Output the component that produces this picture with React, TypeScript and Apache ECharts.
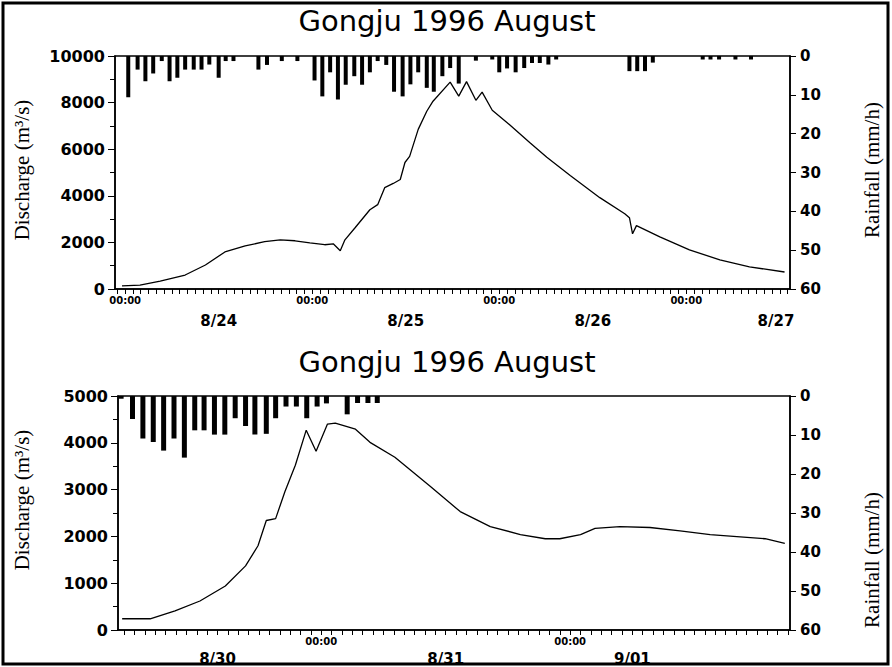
import React, { useEffect, useRef } from "react";
import * as echarts from "echarts";

// ---------- Panel 1: 8/24 - 8/27 (hours from 8/24 00:00) ----------
const topRainHours = [0.4, 1.6, 2.6, 3.6, 4.7, 5.7, 6.7, 7.7, 8.8, 9.8, 10.8, 12.0, 12.9, 13.9, 17.1, 18.2, 20.1, 22.1, 24.3, 25.3, 26.3, 27.3, 28.3, 29.4, 30.4, 31.4, 32.4, 33.5, 34.5, 35.6, 36.6, 37.6, 38.7, 39.6, 40.7, 41.7, 42.8, 45.0, 47.1, 48.0, 49.0, 50.1, 51.2, 52.2, 53.2, 54.3, 55.3, 64.7, 65.7, 66.7, 67.7, 74.1, 75.1, 76.2, 78.3, 80.3];
const topRain = [10.6, 3.5, 6.5, 4.5, 1.3, 6.5, 5.6, 3.5, 3.5, 3.5, 2.2, 5.6, 1.3, 1.3, 3.5, 2.3, 1.3, 1.3, 6.3, 10.4, 4.2, 11.2, 7.4, 5.2, 7.4, 4.2, 1.3, 2.3, 9.2, 10.4, 7.3, 4.2, 8.2, 9.2, 5.2, 3.1, 7.1, 1.2, 0.9, 4.2, 3.2, 4.2, 3.1, 1.8, 1.8, 2.2, 0.9, 3.9, 3.9, 3.9, 1.7, 0.9, 0.9, 0.9, 0.9, 0.9];
const topFlowHours = [-0.4, 1.9, 4.5, 7.7, 10.3, 12.8, 15.4, 17.9, 19.9, 21.8, 23.7, 25.6, 26.7, 27.6, 28.2, 29.5, 31.4, 32.4, 33.3, 34.4, 35.3, 35.9, 36.5, 37.6, 38.7, 39.5, 41.7, 42.8, 43.8, 45.0, 45.8, 47.1, 49.4, 51.9, 54.1, 57.1, 60.9, 64.1, 64.7, 65.1, 65.6, 68.6, 72.4, 76.3, 80.1, 84.6];
const topFlow = [130, 170, 340, 600, 1030, 1590, 1850, 2030, 2110, 2070, 1980, 1900, 1940, 1640, 2110, 2630, 3400, 3620, 4350, 4530, 4700, 5430, 5690, 6850, 7630, 8060, 8880, 8280, 8900, 8100, 8450, 7670, 7030, 6290, 5650, 4870, 3920, 3230, 3060, 2370, 2720, 2240, 1680, 1250, 950, 730];
const topClockPos = [0, 24, 48, 72];
const topClockLabels = ["00:00", "00:00", "00:00", "00:00"];
const topDatePos = [12, 36, 60, 83.5];
const topDateLabels = ["8/24", "8/25", "8/26", "8/27"];

// ---------- Panel 2: 8/30 - 9/01 (hours from 8/31 00:00) ----------
const botRainHours = [-19.3, -18.2, -17.2, -16.2, -15.2, -14.2, -13.2, -12.2, -11.3, -10.3, -9.3, -8.3, -7.3, -6.4, -5.3, -4.4, -3.4, -2.4, -1.4, -0.4, 0.5, 2.5, 3.5, 4.5, 5.4];
const botRain = [0.7, 5.9, 10.9, 11.8, 14.0, 10.9, 15.8, 8.8, 8.8, 9.9, 9.9, 5.7, 7.7, 9.9, 9.7, 5.7, 2.7, 2.7, 5.7, 2.7, 1.9, 4.7, 1.8, 1.8, 1.8];
const botFlowHours = [-19.2, -16.5, -14.1, -11.7, -9.25, -7.3, -6.1, -5.3, -4.4, -3.5, -2.5, -1.45, -0.5, 0.6, 1.35, 3.3, 4.7, 7.1, 10.5, 13.4, 16.3, 19.2, 21.6, 23.0, 25.0, 26.4, 28.8, 31.7, 34.6, 37.5, 40.4, 42.8, 44.7];
const botFlow = [240, 240, 410, 620, 940, 1370, 1800, 2340, 2380, 2960, 3520, 4270, 3820, 4400, 4420, 4290, 4010, 3690, 3070, 2530, 2210, 2040, 1950, 1950, 2040, 2170, 2210, 2190, 2120, 2040, 1990, 1950, 1850];
const botClockPos = [0, 24];
const botClockLabels = ["00:00", "00:00"];
const botDatePos = [-10, 12, 30];
const botDateLabels = ["8/30", "8/31", "9/01"];

const titleText = "Gongju 1996 August";
const leftName = "Discharge (m³/s)";
const rightName = "Rainfall (mm/h)";

const SANS = "DejaVu Sans";
const SERIF = "Liberation Serif";

function hourTicks(a: number, b: number) {
  const t: number[] = [];
  for (let h = a; h <= b; h++) t.push(h);
  return t;
}

function pairs(xs: number[], ys: number[]) {
  return xs.map((x, i) => [x, ys[i]]);
}

function mainX(grid: number, min: number, max: number, clockPos: number[], clockLabels: string[]) {
  return {
    type: "value",
    gridIndex: grid,
    position: "bottom",
    min,
    max,
    axisLine: { show: true, onZero: false, lineStyle: { color: "#000", width: 1.5 } },
    axisTick: { show: true, customValues: hourTicks(Math.ceil(min), Math.floor(max)), length: 5, lineStyle: { color: "#000", width: 1 } },
    axisLabel: {
      customValues: clockPos,
      formatter: (v: number) => clockLabels[clockPos.indexOf(v)] ?? "",
      margin: 6,
      fontSize: 10,
      fontWeight: "bold",
      fontFamily: SANS,
      color: "#000",
    },
    splitLine: { show: false },
  };
}

function dateX(grid: number, min: number, max: number, pos: number[], labels: string[], margin: number) {
  return {
    type: "value",
    gridIndex: grid,
    position: "bottom",
    min,
    max,
    axisLine: { show: false, onZero: false },
    axisTick: { show: false },
    axisLabel: {
      customValues: pos,
      formatter: (v: number) => labels[pos.indexOf(v)] ?? "",
      margin,
      fontSize: 15,
      fontWeight: "bold",
      fontFamily: SANS,
      color: "#000",
    },
    splitLine: { show: false },
  };
}

function leftY(grid: number, max: number, interval: number) {
  return {
    type: "value",
    gridIndex: grid,
    position: "left",
    min: 0,
    max,
    interval,
    axisLine: { show: true, onZero: false, lineStyle: { color: "#000", width: 1.5 } },
    axisTick: { show: true, length: 7, lineStyle: { color: "#000" } },
    minorTick: { show: true, splitNumber: 2, length: 5, lineStyle: { color: "#000" } },
    axisLabel: { margin: 10, fontSize: 16, fontWeight: "bold", fontFamily: SANS, color: "#000", formatter: (v: number) => String(v) },
    splitLine: { show: false },
  };
}

function rightY(grid: number) {
  return {
    type: "value",
    gridIndex: grid,
    position: "right",
    inverse: true,
    min: 0,
    max: 60,
    interval: 10,
    axisLine: { show: true, onZero: false, lineStyle: { color: "#000", width: 1.5 } },
    axisTick: { show: true, length: 6, lineStyle: { color: "#000" } },
    axisLabel: { margin: 10, fontSize: 15, fontWeight: "bold", fontFamily: SANS, color: "#000", formatter: (v: number) => String(v) },
    splitLine: { show: false },
  };
}

function vText(x: number, y: number, text: string) {
  return {
    type: "text",
    x,
    y,
    rotation: Math.PI / 2,
    style: { text, fontFamily: SERIF, fontSize: 21, fill: "#000", textAlign: "center", textVerticalAlign: "middle" },
  };
}

function title(y: number) {
  return {
    type: "text",
    x: 447,
    y,
    style: { text: titleText, fontFamily: SANS, fontSize: 29, fill: "#000", textAlign: "center", textVerticalAlign: "middle" },
  };
}

const option = {
  animation: false,
  backgroundColor: "#fff",
  grid: [
    { left: 115, right: 102, top: 56, bottom: 378, show: true, borderColor: "#000", borderWidth: 1.5, backgroundColor: "transparent" },
    { left: 118, right: 102, top: 396, bottom: 37, show: true, borderColor: "#000", borderWidth: 1.5, backgroundColor: "transparent" },
  ],
  xAxis: [
    mainX(0, -1.3, 85.3, topClockPos, topClockLabels),
    dateX(0, -1.3, 85.3, topDatePos, topDateLabels, 24),
    mainX(1, -19.6, 45.2, botClockPos, botClockLabels),
    dateX(1, -19.6, 45.2, botDatePos, botDateLabels, 21),
  ],
  yAxis: [leftY(0, 10000, 2000), rightY(0), leftY(1, 5000, 1000), rightY(1)],
  series: [
    {
      type: "line",
      xAxisIndex: 0,
      yAxisIndex: 0,
      data: pairs(topFlowHours, topFlow),
      symbol: "none",
      lineStyle: { color: "#000", width: 1.3 },
    },
    {
      type: "bar",
      xAxisIndex: 0,
      yAxisIndex: 1,
      data: pairs(topRainHours, topRain),
      barWidth: 4,
      itemStyle: { color: "#000" },
    },
    {
      type: "line",
      xAxisIndex: 2,
      yAxisIndex: 2,
      data: pairs(botFlowHours, botFlow),
      symbol: "none",
      lineStyle: { color: "#000", width: 1.3 },
    },
    {
      type: "bar",
      xAxisIndex: 2,
      yAxisIndex: 3,
      data: pairs(botRainHours, botRain),
      barWidth: 5,
      itemStyle: { color: "#000" },
    },
  ],
  graphic: [
    { type: "rect", shape: { x: 3, y: 3, width: 885, height: 661 }, style: { fill: "none", stroke: "#000", lineWidth: 3 } },
    title(21),
    title(362),
    vText(22, 170, leftName),
    vText(872, 170, rightName),
    vText(22, 500, leftName),
    vText(872, 560, rightName),
  ],
};

export default function App() {
  const ref = useRef<HTMLDivElement>(null);
  useEffect(() => {
    document.body.style.margin = "0";
    const chart = echarts.init(ref.current as HTMLDivElement, null, { renderer: "svg" });
    chart.setOption(option as any);
    return () => chart.dispose();
  }, []);
  return <div ref={ref} style={{ width: 892, height: 667, background: "#fff" }} />;
}
